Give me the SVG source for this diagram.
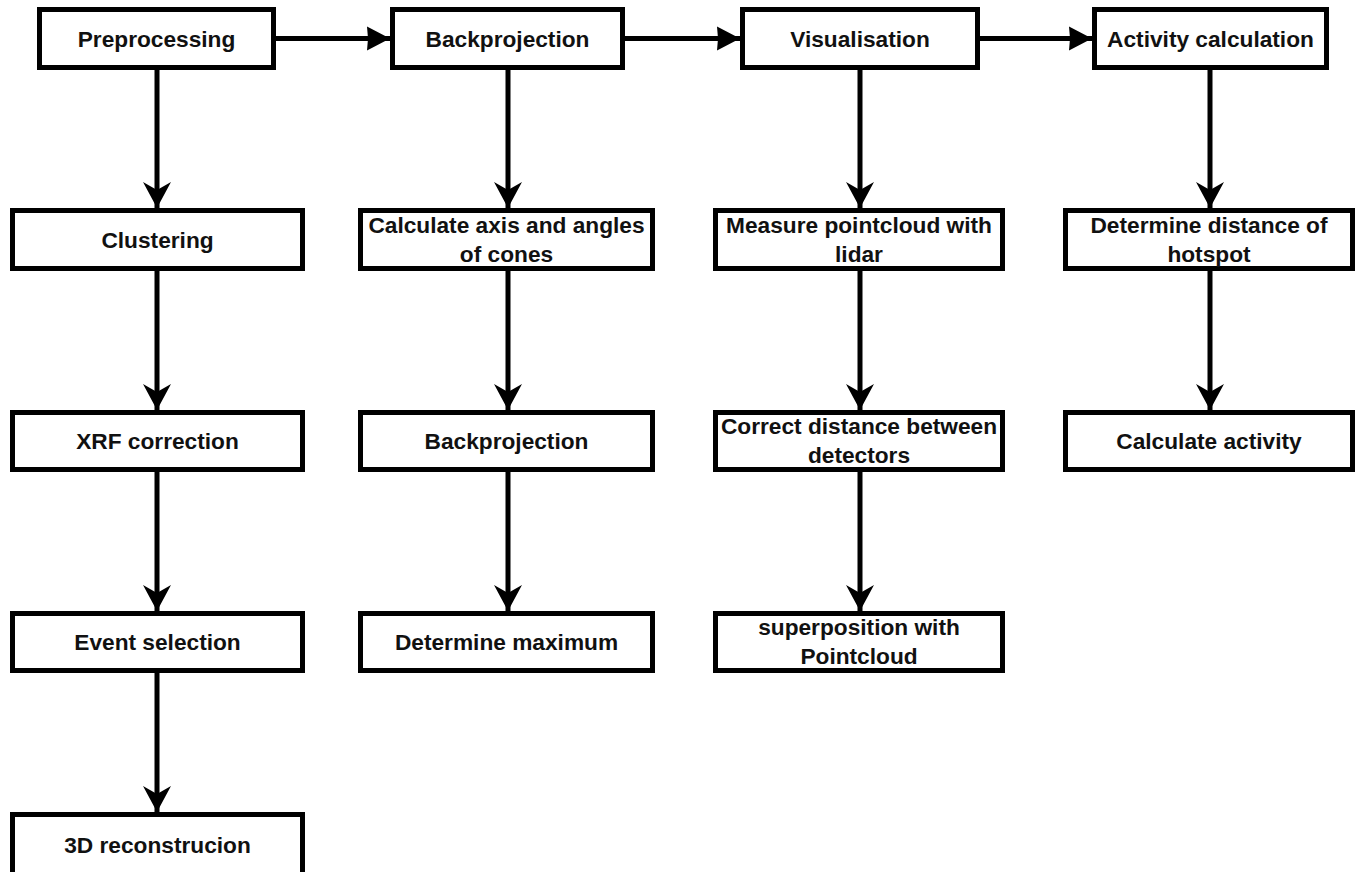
<svg xmlns="http://www.w3.org/2000/svg" width="1368" height="872" viewBox="0 0 1368 872">
<style>
.box{fill:#fff;stroke:#000;stroke-width:5}
.t{font-family:"Liberation Sans",Arial,sans-serif;font-weight:bold;font-size:22.7px;fill:#111;text-anchor:middle}
.ln{fill:none;stroke:#000;stroke-width:5}
.v{marker-end:url(#av)}
.h{marker-end:url(#ah)}
</style>
<defs>
<marker id="av" markerUnits="userSpaceOnUse" viewBox="-26 -15 27 30" markerWidth="27" markerHeight="30" refX="0" refY="0" orient="auto" overflow="visible">
<path d="M0,0 L-26,-14 L-18,0 L-26,14 Z" fill="#000"/>
</marker>
<marker id="ah" markerUnits="userSpaceOnUse" viewBox="-24 -13 25 26" markerWidth="25" markerHeight="26" refX="0" refY="0" orient="auto" overflow="visible">
<path d="M0,0 L-23,-12 L-22,0 L-23,12 Z" fill="#000"/>
</marker>
</defs>
<rect width="1368" height="872" fill="#fff"/>
<g id="connectors">
<line class="ln h" x1="276" y1="38.5" x2="390" y2="38.5"/>
<line class="ln h" x1="625" y1="38.5" x2="740" y2="38.5"/>
<line class="ln h" x1="980" y1="38.5" x2="1092" y2="38.5"/>
<line class="ln v" x1="157" y1="70" x2="157" y2="208"/>
<line class="ln v" x1="157" y1="271" x2="157" y2="410"/>
<line class="ln v" x1="157" y1="472" x2="157" y2="611"/>
<line class="ln v" x1="157" y1="673" x2="157" y2="812"/>
<line class="ln v" x1="508" y1="70" x2="508" y2="208"/>
<line class="ln v" x1="508" y1="271" x2="508" y2="410"/>
<line class="ln v" x1="508" y1="472" x2="508" y2="611"/>
<line class="ln v" x1="860" y1="70" x2="860" y2="208"/>
<line class="ln v" x1="860" y1="271" x2="860" y2="410"/>
<line class="ln v" x1="860" y1="472" x2="860" y2="611"/>
<line class="ln v" x1="1210" y1="70" x2="1210" y2="208"/>
<line class="ln v" x1="1210" y1="271" x2="1210" y2="410"/>
</g>
<g id="preprocessing"><rect class="box" x="39.5" y="9.5" width="234" height="58"/><text class="t" x="156.5" y="47">Preprocessing</text></g>
<g id="backprojection-top"><rect class="box" x="392.5" y="9.5" width="230" height="58"/><text class="t" x="507.5" y="47">Backprojection</text></g>
<g id="visualisation"><rect class="box" x="742.5" y="9.5" width="235" height="58"/><text class="t" x="860" y="47">Visualisation</text></g>
<g id="activity-calculation"><rect class="box" x="1094.5" y="9.5" width="232" height="58"/><text class="t" x="1210.5" y="47">Activity calculation</text></g>

<g id="clustering"><rect class="box" x="12.5" y="210.5" width="290" height="58"/><text class="t" x="157.5" y="248">Clustering</text></g>
<g id="calculate-axis"><rect class="box" x="360.5" y="210.5" width="292" height="58"/><text class="t" x="506.5" y="233">Calculate axis and angles</text><text class="t" x="506.5" y="262">of cones</text></g>
<g id="measure-pointcloud"><rect class="box" x="715.5" y="210.5" width="287" height="58"/><text class="t" x="859" y="233">Measure pointcloud with</text><text class="t" x="859" y="262">lidar</text></g>
<g id="determine-distance"><rect class="box" x="1065.5" y="210.5" width="287" height="58"/><text class="t" x="1209" y="233">Determine distance of</text><text class="t" x="1209" y="262">hotspot</text></g>

<g id="xrf-correction"><rect class="box" x="12.5" y="412.5" width="290" height="57"/><text class="t" x="157.5" y="449">XRF correction</text></g>
<g id="backprojection"><rect class="box" x="360.5" y="412.5" width="292" height="57"/><text class="t" x="506.5" y="449">Backprojection</text></g>
<g id="correct-distance"><rect class="box" x="715.5" y="412.5" width="287" height="57"/><text class="t" x="859" y="434">Correct distance between</text><text class="t" x="859" y="463">detectors</text></g>
<g id="calculate-activity"><rect class="box" x="1065.5" y="412.5" width="287" height="57"/><text class="t" x="1209" y="449">Calculate activity</text></g>

<g id="event-selection"><rect class="box" x="12.5" y="613.5" width="290" height="57"/><text class="t" x="157.5" y="650">Event selection</text></g>
<g id="determine-maximum"><rect class="box" x="360.5" y="613.5" width="292" height="57"/><text class="t" x="506.5" y="650">Determine maximum</text></g>
<g id="superposition"><rect class="box" x="715.5" y="613.5" width="287" height="57"/><text class="t" x="859" y="635">superposition with</text><text class="t" x="859" y="664">Pointcloud</text></g>

<g id="reconstruction"><rect class="box" x="12.5" y="814.5" width="290" height="60"/><text class="t" x="157.5" y="853">3D reconstrucion</text></g>
</svg>
